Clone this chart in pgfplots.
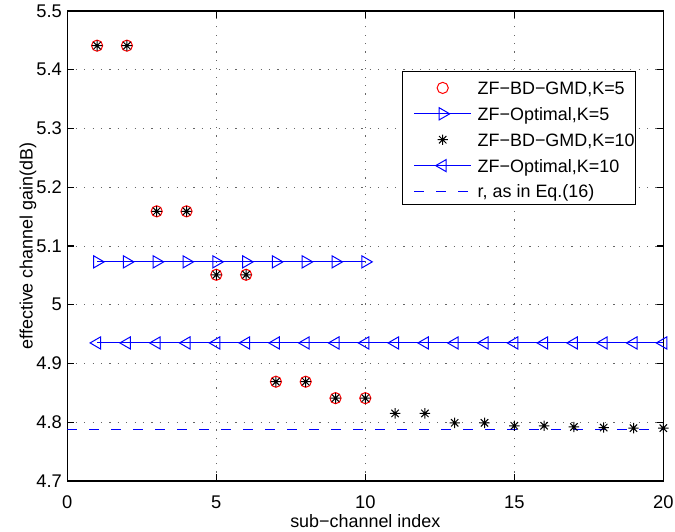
\documentclass[border=0pt]{standalone}
\usepackage{fontspec}
\setmainfont{Liberation Sans}
\usepackage{pgfplots}
\pgfplotsset{compat=1.18}

\pgfdeclareplotmark{mstar}{%
  \pgfpathmoveto{\pgfqpoint{-\pgfplotmarksize}{0pt}}\pgfpathlineto{\pgfqpoint{\pgfplotmarksize}{0pt}}%
  \pgfpathmoveto{\pgfqpoint{0pt}{-\pgfplotmarksize}}\pgfpathlineto{\pgfqpoint{0pt}{\pgfplotmarksize}}%
  \pgfpathmoveto{\pgfqpoint{-0.7071\pgfplotmarksize}{-0.7071\pgfplotmarksize}}\pgfpathlineto{\pgfqpoint{0.7071\pgfplotmarksize}{0.7071\pgfplotmarksize}}%
  \pgfpathmoveto{\pgfqpoint{-0.7071\pgfplotmarksize}{0.7071\pgfplotmarksize}}\pgfpathlineto{\pgfqpoint{0.7071\pgfplotmarksize}{-0.7071\pgfplotmarksize}}%
  \pgfusepathqstroke}

\newcommand\legspace{\pgfpathmoveto{\pgfpoint{-5.4bp}{0pt}}\pgfpathlineto{\pgfpoint{31.65bp}{0pt}}\pgfusepath{}}

\pgfplotsset{
  leglines/.style={legend image code/.code={%
    \legspace
    \draw[mark repeat=2,mark phase=2,##1] plot coordinates {(0bp,-0.7bp) (14.15bp,-0.7bp) (28.3bp,-0.7bp)};}},
  legmarks/.style={legend image code/.code={%
    \legspace
    \draw[mark repeat=2,mark phase=2,##1] plot[only marks] coordinates {(0bp,-0.7bp) (14.15bp,-0.7bp) (28.3bp,-0.7bp)};}},
}

\begin{document}
\begin{tikzpicture}
\begin{axis}[
  scale only axis, width=298bp, height=235bp,
  xmin=0, xmax=20, ymin=4.7, ymax=5.5,
  xtick={0,5,10,15,20},
  ytick={4.7,4.8,4.9,5,5.1,5.2,5.3,5.4,5.5},
  grid=major,
  major grid style={black!60, line width=0.5bp, dash pattern=on 0.6bp off 3.6bp},
  axis line style={line width=0.6bp},
  every tick/.style={black, line width=0.6bp},
  major tick length=3.3bp,
  tick align=inside,
  font=\fontsize{9}{11}\selectfont,
  /pgf/number format/assume math mode=true,
  ticklabel style={font=\fontsize{9.2}{11}\selectfont},
  xticklabel style={yshift=-4bp},
  yticklabel style={xshift=0.8bp},
  xlabel={sub−channel index},
  ylabel={effective channel gain(dB)},
  xlabel style={at={(axis description cs:0.5,-0.098)}, anchor=base},
  ylabel style={at={(axis description cs:-0.058,0.5)}, anchor=base},
  legend style={at={(0.955,0.872)}, anchor=north east, draw=black, line width=0.6bp,
    font=\fontsize{9}{11}\selectfont, inner xsep=0.6bp, inner ysep=1bp, row sep=0.2bp,
    nodes={inner xsep=0pt, inner ysep=0pt, text height=10.3bp, text depth=2.45bp}},
  legend cell align=left,
]
\addplot[only marks, mark=o, mark size=2.8bp, red, line width=0.5bp, legmarks] coordinates {
(1,5.441) (2,5.441) (3,5.159) (4,5.159) (5,5.051) (6,5.051) (7,4.869) (8,4.869) (9,4.841) (10,4.841)};
\addlegendentry{ZF−BD−GMD,K=5}
\addplot[blue, line width=0.5bp, mark=triangle, mark size=3.5bp, mark options={rotate=-90}, leglines] coordinates {
(1,5.073) (2,5.073) (3,5.073) (4,5.073) (5,5.073) (6,5.073) (7,5.073) (8,5.073) (9,5.073) (10,5.073)};
\addlegendentry{ZF−Optimal,K=5}
\addplot[only marks, mark=mstar, mark size=2.6bp, black, line width=0.5bp, legmarks] coordinates {
(1,5.441) (2,5.441) (3,5.159) (4,5.159) (5,5.051) (6,5.051) (7,4.869) (8,4.869) (9,4.841) (10,4.841)
(11,4.815) (12,4.815) (13,4.799) (14,4.799) (15,4.794) (16,4.794) (17,4.792) (18,4.791) (19,4.790) (20,4.790)};
\addlegendentry{ZF−BD−GMD,K=10}
\addplot[blue, line width=0.5bp, mark=triangle, mark size=3.5bp, mark options={rotate=90}, leglines] coordinates {
(1,4.935) (2,4.935) (3,4.935) (4,4.935) (5,4.935) (6,4.935) (7,4.935) (8,4.935) (9,4.935) (10,4.935)
(11,4.935) (12,4.935) (13,4.935) (14,4.935) (15,4.935) (16,4.935) (17,4.935) (18,4.935) (19,4.935) (20,4.935)};
\addlegendentry{ZF−Optimal,K=10}
\addplot[blue, line width=0.5bp, dash pattern=on 5bp off 6bp, leglines] coordinates {(0,4.788) (20,4.788)};
\addlegendentry{r, as in Eq.(16)}
\end{axis}
\pgfresetboundingbox
\path[use as bounding box] ([xshift=-33.65bp,yshift=-25.5bp]current axis.south west) rectangle ([xshift=5.85bp,yshift=5.5bp]current axis.north east);
\end{tikzpicture}
\end{document}
